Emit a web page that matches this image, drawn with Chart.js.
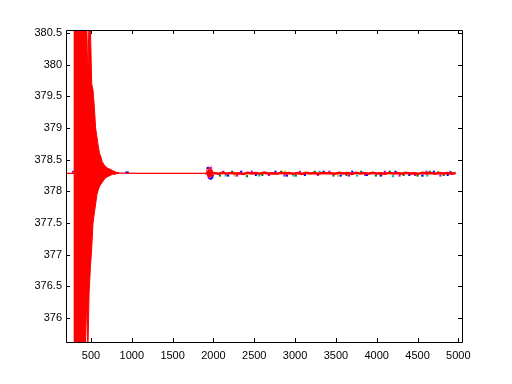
<!DOCTYPE html>
<html>
<head>
<meta charset="utf-8">
<script src="https://cdn.jsdelivr.net/npm/chart.js@4"></script>
<style>
html, body { margin: 0; padding: 0; background: #fff; }
</style>
</head>
<body>
<canvas id="myChart" width="512" height="384"></canvas>
<script>
// axis ticks
const xTicks = [500, 1000, 1500, 2000, 2500, 3000, 3500, 4000, 4500, 5000];
const yTicks = [376, 376.5, 377, 377.5, 378, 378.5, 379, 379.5, 380, 380.5];

// ringing at the start: top and bottom of the swing, sampled every ringStep
const ringStart = 285;
const ringStep = 16;
const ringHi = [
  381.0, 381.2, 381.1, 381.3, 381.0, 381.2, 381.1, 381.0, 380.9, 380.8,
  380.9, 379.8, 380.8, 380.6, 379.7, 379.6, 379.34, 379.0, 378.86, 378.72,
  378.6, 378.55, 378.47, 378.44, 378.40, 378.39, 378.37, 378.36, 378.35, 378.34,
  378.33, 378.32, 378.31, 378.30, 378.30, 378.295
];
const ringLo = [
  375.0, 375.1, 375.0, 375.2, 375.0, 375.1, 375.0, 375.3, 375.2, 375.4,
  376.3, 375.4, 376.4, 376.8, 377.1, 377.5, 377.65, 377.8, 377.95, 378.02,
  378.08, 378.11, 378.14, 378.17, 378.2, 378.22, 378.23, 378.24, 378.25, 378.26,
  378.27, 378.27, 378.27, 378.28, 378.28, 378.285
];

// settled red trace and the burst near 1950
const flatX = [100, 870, 1120, 1912, 1920, 1927, 1934, 1941, 1948, 1955, 1962, 1969, 1976, 1983, 1990, 2000];
const flatY = [378.285, 378.29, 378.285, 378.285, 378.30, 378.26, 378.33, 378.23, 378.35, 378.22, 378.35, 378.23, 378.33, 378.25, 378.31, 378.28];

// red noisy part, sampled every noiseStep
const noiseStart = 2010;
const noiseStep = 51;
const noiseY = [
  378.29, 378.28, 378.295, 378.278, 378.292, 378.283, 378.288, 378.276, 378.294, 378.281,
  378.29, 378.279, 378.296, 378.284, 378.287, 378.277, 378.293, 378.282, 378.291, 378.28,
  378.289, 378.276, 378.295, 378.283, 378.29, 378.279, 378.292, 378.285, 378.288, 378.278,
  378.294, 378.281, 378.29, 378.277, 378.293, 378.284, 378.289, 378.28, 378.295, 378.282,
  378.287, 378.278, 378.292, 378.283, 378.29, 378.279, 378.294, 378.281, 378.288, 378.277,
  378.293, 378.284, 378.29, 378.28, 378.292, 378.283, 378.289, 378.279, 378.29
];

// other runs peeking out around the red trace
const blueX = [935, 950, 1930, 1968, 1985, 2180, 2340, 2520, 2760, 2900, 3120, 3350, 3560, 3700, 3880, 4050, 4230, 4400, 4560, 4700, 4870];
const blueY = [378.297, 378.297, 378.37, 378.20, 378.22, 378.25, 378.31, 378.26, 378.31, 378.25, 378.26, 378.31, 378.25, 378.31, 378.26, 378.25, 378.31, 378.26, 378.25, 378.31, 378.26];

const greenX = [2080, 2230, 2410, 2600, 2830, 3010, 3240, 3470, 3630, 3810, 3990, 4160, 4330, 4500, 4650, 4820];
const greenY = [378.25, 378.31, 378.24, 378.26, 378.31, 378.25, 378.31, 378.25, 378.26, 378.31, 378.25, 378.31, 378.26, 378.25, 378.31, 378.26];

const magentaX = [280, 1915, 1945, 1960, 1995, 2120, 2290, 2470, 2680, 2870, 3060, 3280, 3420, 3660, 3860, 4100, 4280, 4470, 4610, 4780, 4910];
const magentaY = [378.31, 378.28, 378.21, 378.37, 378.25, 378.31, 378.25, 378.31, 378.26, 378.25, 378.31, 378.26, 378.31, 378.25, 378.26, 378.31, 378.25, 378.26, 378.31, 378.25, 378.30];

const cyanX = [2150, 2560, 2980, 3300, 3760, 4200, 4620, 4900];
const cyanY = [378.25, 378.25, 378.25, 378.31, 378.25, 378.24, 378.25, 378.31];

const yellowX = [2260, 2880, 3530, 4060, 4560, 4750];
const yellowY = [378.25, 378.31, 378.25, 378.26, 378.25, 378.31];

const pts = function (xs, ys) {
  return xs.map((x, i) => ({ x: x, y: ys[i] }));
}
const grid = function (start, step, ys) {
  return ys.map((y, i) => ({ x: start + i * step, y: y }));
}

const redNoise = [{ x: flatX[flatX.length - 1], y: flatY[flatY.length - 1] }]
  .concat(grid(noiseStart, noiseStep, noiseY));

const dots = function (data, color) {
  return {
    data: data, showLine: false, borderColor: color, backgroundColor: color,
    pointStyle: 'rect', pointRadius: 1.5, pointBorderWidth: 0
  };
}

const font = { family: '"Liberation Sans", Arial, Helvetica, sans-serif', size: 11 };

// MATLAB style frame with inward ticks on all four sides
const matlabBox = {
  id: 'matlabBox',
  afterDatasetsDraw(chart) {
    const { ctx, chartArea: a, scales } = chart;
    ctx.save();
    ctx.strokeStyle = '#000';
    ctx.lineWidth = 1;
    ctx.beginPath();
    ctx.rect(a.left + 0.5, a.top + 0.5, a.right - a.left, a.bottom - a.top);
    xTicks.forEach(v => {
      const px = Math.round(scales.x.getPixelForValue(v)) + 0.5;
      ctx.moveTo(px, a.bottom); ctx.lineTo(px, a.bottom - 4);
      ctx.moveTo(px, a.top); ctx.lineTo(px, a.top + 4);
    });
    yTicks.forEach(v => {
      const py = Math.round(scales.y.getPixelForValue(v)) + 0.5;
      ctx.moveTo(a.left, py); ctx.lineTo(a.left + 4, py);
      ctx.moveTo(a.right, py); ctx.lineTo(a.right - 4, py);
    });
    ctx.stroke();
    ctx.restore();
  }
};

const ctx = document.getElementById('myChart').getContext('2d');
const myChart = new Chart(ctx, {
  type: 'line',
  data: {
    datasets: [
      { data: grid(ringStart, ringStep, ringHi), borderColor: '#ff0000', backgroundColor: '#ff0000', borderWidth: 1, fill: '+1', pointRadius: 0 },
      { data: grid(ringStart, ringStep, ringLo), borderColor: '#ff0000', borderWidth: 1, fill: false, pointRadius: 0 },
      { data: pts(flatX, flatY), borderColor: '#ff0000', borderWidth: 1.2, fill: false, pointRadius: 0 },
      { data: redNoise, borderColor: '#ff0000', borderWidth: 2.5, fill: false, pointRadius: 0 },
      dots(pts(blueX, blueY), '#0000ff'),
      dots(pts(greenX, greenY), '#008000'),
      dots(pts(magentaX, magentaY), '#bf00bf'),
      dots(pts(cyanX, cyanY), '#00bfbf'),
      dots(pts(yellowX, yellowY), '#bfbf00')
    ]
  },
  options: {
    responsive: false,
    devicePixelRatio: 1,
    animation: false,
    parsing: false,
    elements: { line: { tension: 0 } },
    layout: { padding: { top: 30, right: 50, left: 0, bottom: 0 } },
    plugins: { legend: { display: false }, tooltip: { enabled: false } },
    scales: {
      x: {
        type: 'linear', min: 194, max: 5045,
        afterBuildTicks: s => { s.ticks = xTicks.map(v => ({ value: v })); },
        afterFit: s => { s.height = 42; },
        grid: { display: false, drawTicks: false },
        border: { display: false },
        ticks: { font: font, color: '#000', padding: 7, maxRotation: 0, autoSkip: false, callback: v => String(v) }
      },
      y: {
        type: 'linear', min: 375.62, max: 380.55,
        afterBuildTicks: s => { s.ticks = yTicks.map(v => ({ value: v })); },
        afterFit: s => { s.width = 66; },
        grid: { display: false, drawTicks: false },
        border: { display: false },
        ticks: { font: font, color: '#000', padding: 4, autoSkip: false, callback: v => String(v) }
      }
    }
  },
  plugins: [matlabBox]
});
</script>
</body>
</html>
